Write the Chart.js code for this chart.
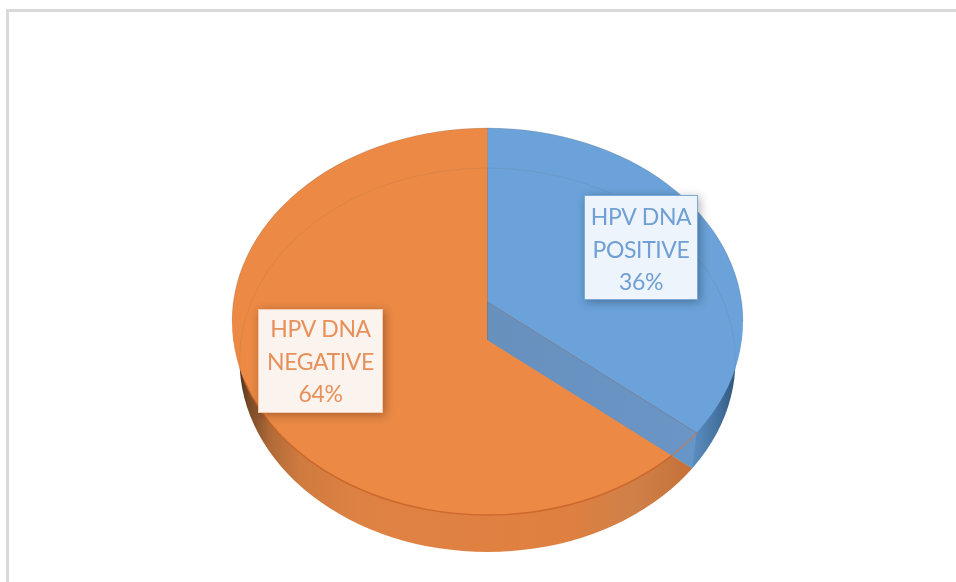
<!DOCTYPE html>
<html>
<head>
<meta charset="utf-8">
<title>HPV DNA</title>
<script src="https://cdn.jsdelivr.net/npm/chart.js@4/dist/chart.umd.min.js"></script>
<style>
  html, body { margin: 0; padding: 0; background: #fff; overflow: hidden; }
  #wrap { position: relative; width: 956px; height: 582px; }
  #frame { position: absolute; left: 6px; top: 9px; right: 0; bottom: 0;
           border-top: 3px solid #d9d9d9; border-left: 3px solid #d9d9d9; }
  canvas { position: absolute; left: 0; top: 0; }
</style>
</head>
<body>
<div id="wrap">
  <div id="frame"></div>
  <canvas id="pie" width="956" height="582"></canvas>
</div>
<script>
// Share of samples by HPV DNA result
const categories = ['HPV DNA POSITIVE', 'HPV DNA NEGATIVE'];
const shares = [36, 64];
const labelLines = [['HPV DNA', 'POSITIVE'], ['HPV DNA', 'NEGATIVE']];
const faceColors = ['#6aa2d9', '#eb8945'];
const labelInk = ['#6f9fd4', '#e8905a'];

// Tilted-disc geometry: face and underside ellipses, and the vertical squash
const face = { x: 487.5, y: 321.5, rx: 255.5, ry: 193.5 };
const base = { x: 487.5, y: 360, rx: 248, ry: 192 };
const squash = 0.757;
const depth = 38;
const labelBoxes = [
  { x: 584, y: 195, w: 114, h: 105, textTop: 23, fill: '#eef4fb', edge: 'rgba(90,150,210,0.8)' },
  { x: 258, y: 309, w: 125, h: 104, textTop: 21, fill: '#faf3ee', edge: 'rgba(237,140,70,0.4)' }
];

function ellipsePath(ctx, e) {
  ctx.beginPath();
  ctx.ellipse(e.x, e.y, e.rx, e.ry, 0, 0, Math.PI * 2);
}

// Where a slice edge leaving (px, py) at the given angle meets an ellipse
function rimPoint(px, py, angle, e) {
  const dx = Math.cos(angle), dy = squash * Math.sin(angle);
  const ax = dx / e.rx, ay = dy / e.ry;
  const bx = (px - e.x) / e.rx, by = (py - e.y) / e.ry;
  const a = ax * ax + ay * ay, b = 2 * (ax * bx + ay * by), c = bx * bx + by * by - 1;
  const t = (-b + Math.sqrt(b * b - 4 * a * c)) / (2 * a);
  return { x: px + t * dx, y: py + t * dy };
}

function sectorPath(ctx, cx, cy, r, start, end) {
  ctx.beginPath();
  ctx.moveTo(cx, cy);
  ctx.ellipse(cx, cy, r, r * squash, 0, start, end);
  ctx.closePath();
}

const tiltedDisc = {
  id: 'tiltedDisc',
  beforeDatasetsDraw(chart) {
    const ctx = chart.ctx;
    const arcs = chart.getDatasetMeta(0).data;
    const cx = arcs[0].x, cy = arcs[0].y, r = arcs[0].outerRadius;

    // Side wall shading, darkest towards the silhouette
    const blueWall = ctx.createLinearGradient(690, 0, 742, 0);
    blueWall.addColorStop(0, '#5f90c4');
    blueWall.addColorStop(0.55, '#44729f');
    blueWall.addColorStop(1, '#2a4a6c');
    const orangeWall = ctx.createLinearGradient(236, 0, 700, 0);
    orangeWall.addColorStop(0, '#3f2a1c');
    orangeWall.addColorStop(0.03, '#7d4c28');
    orangeWall.addColorStop(0.073, '#b06a38');
    orangeWall.addColorStop(0.138, '#cf7a3f');
    orangeWall.addColorStop(0.267, '#de8244');
    orangeWall.addColorStop(0.7, '#e08040');
    orangeWall.addColorStop(0.86, '#cf8048');
    orangeWall.addColorStop(0.98, '#c57138');
    const walls = [blueWall, orangeWall];

    ctx.save();
    ellipsePath(ctx, base);
    ctx.clip();
    arcs.forEach((arc, i) => {
      sectorPath(ctx, cx, cy + depth, r, arc.startAngle, arc.endAngle);
      ctx.fillStyle = walls[i];
      ctx.fill();
    });
    ctx.restore();

    // The library's slices are drawn squashed and trimmed to the face ellipse
    ctx.save();
    ellipsePath(ctx, face);
    ctx.clip();
    ctx.translate(cx, cy);
    ctx.scale(1, squash);
    ctx.translate(-cx, -cy);
  },
  afterDatasetsDraw(chart) {
    const ctx = chart.ctx;
    ctx.restore();
    const arcs = chart.getDatasetMeta(0).data;
    const cx = arcs[0].x, cy = arcs[0].y;
    const cut = arcs[0].endAngle;

    const a = rimPoint(cx, cy, cut, face);
    const b = rimPoint(cx, cy + depth, cut, base);

    // Front rim of the larger slice, where the face meets the side wall
    ctx.save();
    ctx.beginPath();
    ctx.ellipse(face.x, face.y, face.rx, face.ry, 0,
      Math.atan2((a.y - face.y) / face.ry, (a.x - face.x) / face.rx), Math.PI * 0.9);
    ctx.strokeStyle = 'rgba(200,100,40,0.85)';
    ctx.lineWidth = 1.5;
    ctx.stroke();
    ctx.restore();

    // Inner cut wall of the smaller slice
    const wall = () => {
      ctx.beginPath();
      ctx.moveTo(cx, cy);
      ctx.lineTo(a.x, a.y);
      ctx.lineTo(b.x, b.y);
      ctx.lineTo(cx, cy + depth);
      ctx.closePath();
    };
    ctx.save();
    wall();
    ctx.fillStyle = '#6696c8';
    ctx.fill();
    wall();
    ctx.clip();
    ellipsePath(ctx, face);
    ctx.clip();
    const shade = ctx.createLinearGradient(cx, 0, a.x, 0);
    shade.addColorStop(0, '#6790bd');
    shade.addColorStop(1, '#6a95c6');
    ctx.fillStyle = shade;
    ctx.fillRect(cx - 5, cy - 5, a.x - cx + 10, 200);
    ctx.restore();

    ctx.save();
    wall();
    ctx.clip();
    ellipsePath(ctx, face);
    ctx.strokeStyle = 'rgba(190,125,90,0.8)';
    ctx.lineWidth = 1.5;
    ctx.stroke();
    ctx.restore();

    // Slice edges and the faint outline of the underside showing through
    ctx.save();
    ctx.strokeStyle = 'rgba(130,115,125,0.55)';
    ctx.lineWidth = 1;
    ctx.beginPath();
    ctx.moveTo(cx, face.y - face.ry);
    ctx.lineTo(cx, cy);
    ctx.lineTo(a.x, a.y);
    ctx.stroke();
    ctx.beginPath();
    ctx.moveTo(cx, cy);
    ctx.lineTo(cx, cy + depth);
    ctx.strokeStyle = 'rgba(90,110,140,0.5)';
    ctx.stroke();
    ellipsePath(ctx, face);
    ctx.clip();
    ellipsePath(ctx, base);
    ctx.strokeStyle = 'rgba(110,90,90,0.1)';
    ctx.stroke();
    ctx.restore();

    ctx.save();
    ctx.beginPath();
    ctx.ellipse(face.x, face.y, face.rx, face.ry, 0, Math.PI, Math.PI * 2);
    ctx.strokeStyle = 'rgba(100,90,90,0.18)';
    ctx.lineWidth = 1;
    ctx.stroke();
    ctx.restore();
  },
  afterDraw(chart) {
    const ctx = chart.ctx;
    const values = chart.data.datasets[0].data;
    labelBoxes.forEach((box, i) => {
      ctx.save();
      ctx.shadowColor = 'rgba(0,0,0,0.3)';
      ctx.shadowBlur = 9;
      ctx.shadowOffsetX = 2;
      ctx.shadowOffsetY = 2;
      ctx.fillStyle = box.fill;
      ctx.fillRect(box.x, box.y, box.w, box.h);
      ctx.restore();
      ctx.save();
      ctx.strokeStyle = box.edge;
      ctx.lineWidth = 1;
      ctx.strokeRect(box.x + 0.5, box.y + 0.5, box.w - 1, box.h - 1);
      ctx.fillStyle = labelInk[i];
      ctx.font = '23px Lato, "Open Sans", sans-serif';
      ctx.letterSpacing = '-0.4px';
      ctx.textAlign = 'center';
      ctx.textBaseline = 'middle';
      const lines = [...labelLines[i], values[i] + '%'];
      const mid = box.x + box.w / 2;
      lines.forEach((line, n) => ctx.fillText(line, mid, box.y + box.textTop + n * 32.5));
      ctx.restore();
    });
  }
};

new Chart(document.getElementById('pie'), {
  type: 'pie',
  data: {
    labels: categories,
    datasets: [{
      data: shares,
      backgroundColor: faceColors,
      borderWidth: 0,
      clip: false
    }]
  },
  options: {
    responsive: false,
    animation: false,
    radius: 290,
    layout: { padding: { left: 19, top: 22, right: 0, bottom: 0 } },
    plugins: { legend: { display: false }, tooltip: { enabled: false } }
  },
  plugins: [tiltedDisc]
});
</script>
</body>
</html>
